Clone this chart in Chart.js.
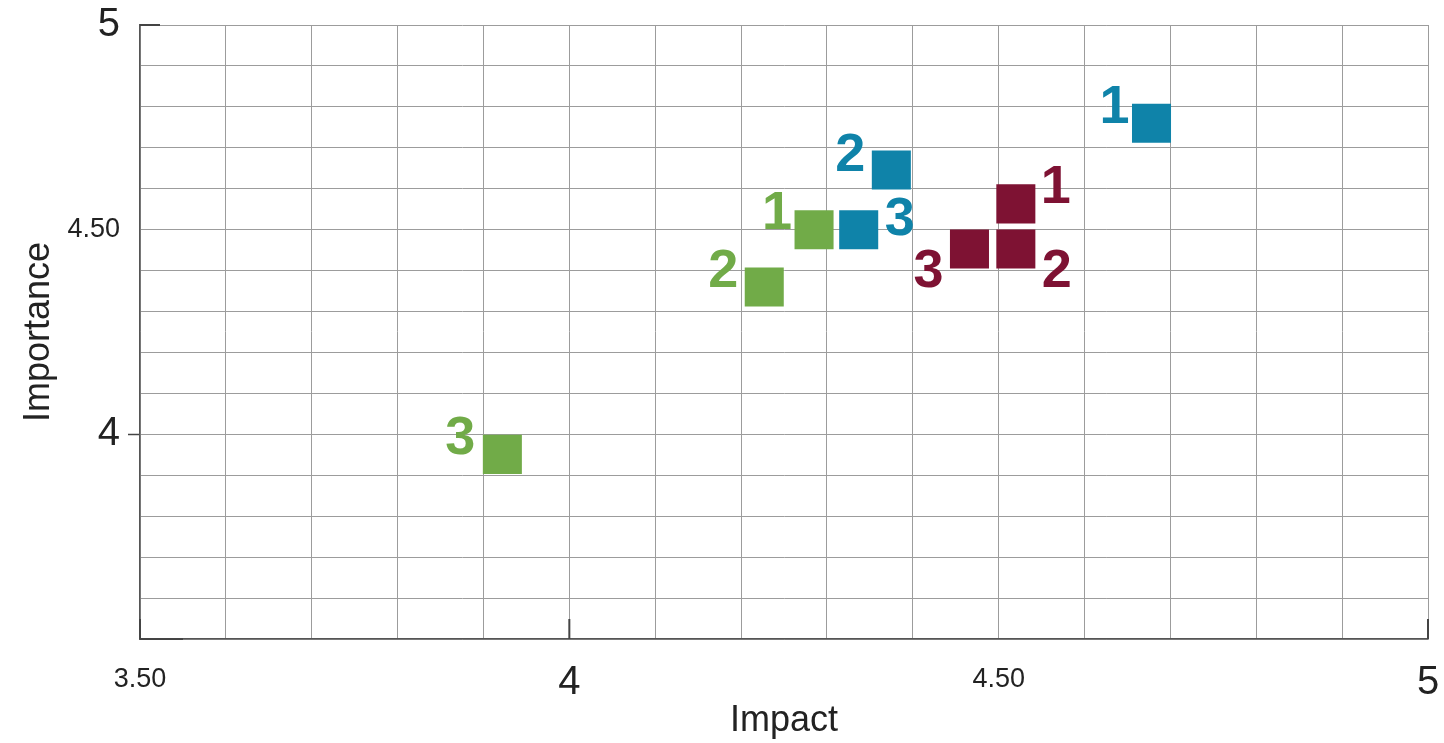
<!DOCTYPE html>
<html lang="en">
<head>
    <meta charset="UTF-8">
    <title>Impact vs Importance</title>
    <script src="https://cdn.jsdelivr.net/npm/chart.js"></script>
    <style>
        html, body {
            margin: 0;
            padding: 0;
            background: #fff;
        }
        #wrap {
            width: 1444px;
            height: 743px;
        }
    </style>
</head>
<body>
    <div id="wrap"><canvas id="scatterChart"></canvas></div>

    <script>
        // Values
        const pointLabels = ['1', '2', '3'];

        const blueImpact = [4.678, 4.375, 4.337];
        const blueImportance = [4.760, 4.646, 4.500];

        const maroonImpact = [4.520, 4.520, 4.466];
        const maroonImportance = [4.563, 4.453, 4.453];

        const greenImpact = [4.285, 4.227, 3.922];
        const greenImportance = [4.500, 4.360, 3.951];

        // Tick labels shown on each axis
        const xTickValues = [3.5, 4, 4.5, 5];
        const xTickText = ['3.50', '4', '4.50', '5'];
        const yTickValues = [4, 4.5, 5];
        const yTickText = ['4', '4.50', '5'];

        // Label placement next to each square (px, relative to square centre)
        const blueOffsets = [[-37, -20], [-41, -18], [41, -14]];
        const maroonOffsets = [[40, -20], [41, 19], [-41, 19]];
        const greenOffsets = [[-37, -20], [-41, -19], [-42, -20]];

        const fontFamily = "'Liberation Sans', Arial, sans-serif";

        function toPoints(xs, ys) {
            return xs.map((x, i) => ({ x: x, y: ys[i] }));
        }

        function labelFor(values, texts, value) {
            const i = values.findIndex(v => Math.abs(v - value) < 1e-6);
            return i >= 0 ? texts[i] : '';
        }

        // big font for whole numbers, small for the halves
        function tickFont(c, bigLineHeight) {
            const v = c.tick ? c.tick.value : 0.5;
            if (Math.abs(v - Math.round(v)) < 1e-6) {
                return { family: fontFamily, size: 40, lineHeight: bigLineHeight };
            }
            return { family: fontFamily, size: 27, lineHeight: 1.2 };
        }

        // Draws the bold 1/2/3 numbers beside each square
        const pointLabelPlugin = {
            id: 'pointLabels',
            afterDatasetsDraw(chart) {
                const ctx = chart.ctx;
                const size = 54;
                ctx.save();
                ctx.font = `bold ${size}px ${fontFamily}`;
                ctx.textAlign = 'center';
                ctx.textBaseline = 'alphabetic';
                chart.data.datasets.forEach((ds, di) => {
                    const meta = chart.getDatasetMeta(di);
                    ctx.fillStyle = ds.backgroundColor;
                    meta.data.forEach((pt, i) => {
                        const off = ds.labelOffsets[i];
                        ctx.fillText(pointLabels[i], pt.x + off[0], pt.y + off[1] + size * 0.358);
                    });
                });
                ctx.restore();
            }
        };

        // Short dark tick marks drawn inside the plot along the axes
        const innerTickPlugin = {
            id: 'innerTicks',
            afterDraw(chart) {
                const ctx = chart.ctx;
                const xs = chart.scales.x;
                const ys = chart.scales.y;
                const area = chart.chartArea;
                ctx.save();
                ctx.strokeStyle = '#444';
                ctx.lineWidth = 2;
                ctx.beginPath();
                [3.5, 4, 5].forEach(v => {
                    const px = xs.getPixelForValue(v);
                    ctx.moveTo(px, area.bottom);
                    ctx.lineTo(px, area.bottom - 20);
                });
                let py = ys.getPixelForValue(5);
                ctx.moveTo(area.left, py);
                ctx.lineTo(area.left + 20, py);
                py = ys.getPixelForValue(3.5);
                ctx.moveTo(area.left, py);
                ctx.lineTo(area.left + 43, py);
                ctx.stroke();
                ctx.restore();
            }
        };

        new Chart(document.getElementById('scatterChart'), {
            type: 'scatter',
            data: {
                datasets: [
                    {
                        label: 'Blue',
                        data: toPoints(blueImpact, blueImportance),
                        backgroundColor: '#0f83a9',
                        labelOffsets: blueOffsets
                    },
                    {
                        label: 'Maroon',
                        data: toPoints(maroonImpact, maroonImportance),
                        backgroundColor: '#7e1233',
                        labelOffsets: maroonOffsets
                    },
                    {
                        label: 'Green',
                        data: toPoints(greenImpact, greenImportance),
                        backgroundColor: '#71ab48',
                        labelOffsets: greenOffsets
                    }
                ]
            },
            options: {
                responsive: true,
                maintainAspectRatio: false,
                animation: false,
                layout: {
                    autoPadding: false,
                    padding: { top: 25, right: 16, left: 0, bottom: 0 }
                },
                elements: {
                    point: {
                        pointStyle: 'rect',
                        radius: 27.6,
                        hoverRadius: 27.6,
                        borderWidth: 0
                    }
                },
                plugins: {
                    legend: { display: false },
                    tooltip: { enabled: false }
                },
                scales: {
                    x: {
                        type: 'linear',
                        min: 3.5,
                        max: 5,
                        afterFit: scale => {
                            scale.height = 104;
                            scale.paddingRight = 0;
                        },
                        border: { color: '#555', width: 1.5 },
                        grid: {
                            color: '#9c9c9c',
                            lineWidth: 1,
                            drawTicks: false
                        },
                        ticks: {
                            stepSize: 0.1,
                            autoSkip: false,
                            maxRotation: 0,
                            padding: 24,
                            color: '#222',
                            font: c => tickFont(c, 1.0),
                            callback: value => labelFor(xTickValues, xTickText, value)
                        },
                        title: {
                            display: true,
                            text: 'Impact',
                            color: '#222',
                            font: { family: fontFamily, size: 36 },
                            padding: { top: 0, bottom: 0 }
                        }
                    },
                    y: {
                        type: 'linear',
                        min: 3.5,
                        max: 5,
                        afterFit: scale => {
                            scale.width = 140;
                            scale.paddingTop = 0;
                        },
                        border: { color: '#555', width: 1.5 },
                        grid: {
                            color: '#9c9c9c',
                            lineWidth: 1,
                            drawTicks: true,
                            tickLength: 12,
                            tickColor: c => (c.tick && Math.abs(c.tick.value - 4) < 1e-6) ? '#444' : 'rgba(0,0,0,0)',
                            tickWidth: 1.5
                        },
                        ticks: {
                            stepSize: 0.1,
                            autoSkip: false,
                            padding: 8,
                            color: '#222',
                            font: c => tickFont(c, 1.2),
                            callback: value => labelFor(yTickValues, yTickText, value)
                        },
                        title: {
                            display: true,
                            text: 'Importance',
                            color: '#222',
                            font: { family: fontFamily, size: 36 },
                            padding: { top: 17, bottom: 0 }
                        }
                    }
                }
            },
            plugins: [pointLabelPlugin, innerTickPlugin]
        });
    </script>
</body>
</html>
